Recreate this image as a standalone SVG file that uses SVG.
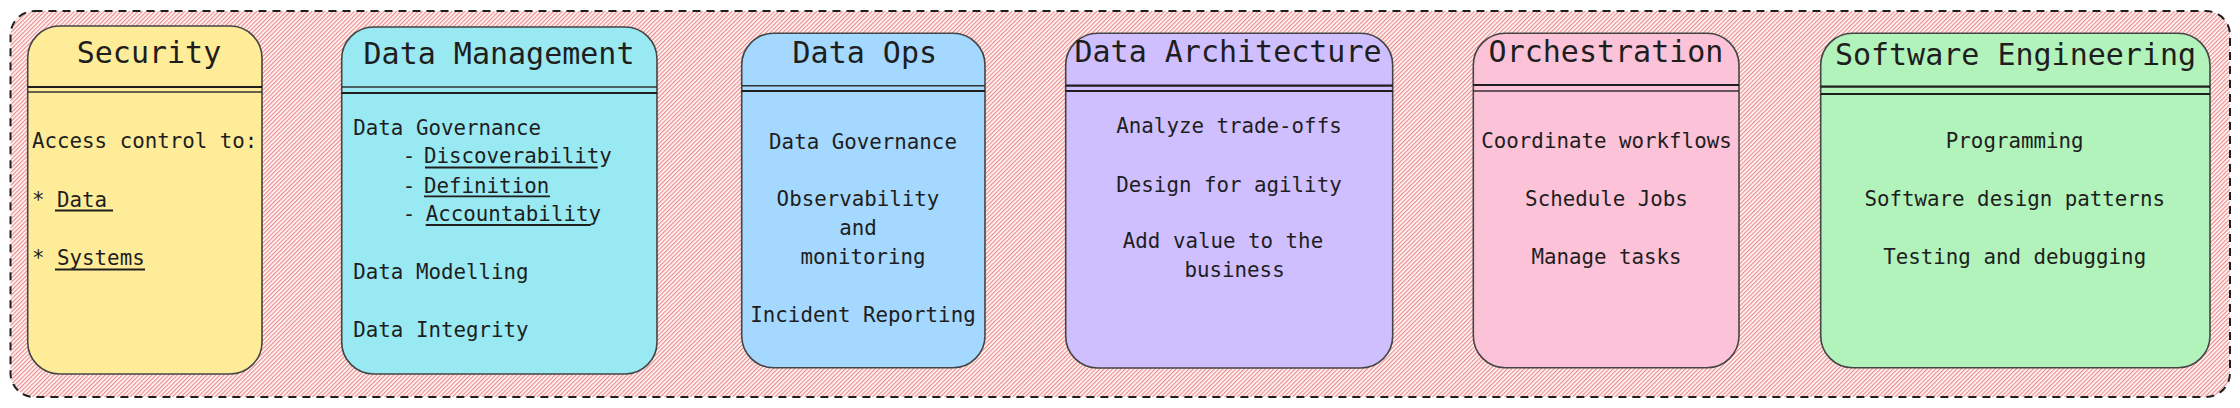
<svg xmlns="http://www.w3.org/2000/svg" width="2240" height="408" viewBox="0 0 2240 408">
<style>
.box{stroke:#444;stroke-width:1.6}
.t{font-family:"DejaVu Sans Mono","Liberation Mono",monospace;font-size:30px;fill:#1e1e1e;text-anchor:middle}
.b{font-family:"DejaVu Sans Mono","Liberation Mono",monospace;font-size:20.8px;fill:#1e1e1e}
.c{text-anchor:middle}
.l1{stroke:#1e1e1e;stroke-width:2.2}
.l2{stroke:#333;stroke-width:1.6}
.u{stroke:#1e1e1e;stroke-width:1.8}
</style>
<defs>
<pattern id="hatch" patternUnits="userSpaceOnUse" width="3" height="3" patternTransform="rotate(45)">
<rect width="3" height="3" fill="#ffffff"/>
<rect width="1.3" height="3" fill="#f08c8c"/>
</pattern>
</defs>
<g id="container">
<rect x="10.5" y="11" width="2219.5" height="386" rx="24" fill="url(#hatch)" stroke="#1e1e1e" stroke-width="2" stroke-dasharray="8 6"/>
</g>
<g id="security">
<rect class="box" x="27.7" y="26" width="234.3" height="348" rx="32" fill="#ffec99"/>
<text class="t" x="149" y="63">Security</text>
<line class="l1" x1="27.7" y1="87" x2="262" y2="87"/>
<line class="l2" x1="27.7" y1="92" x2="262" y2="92"/>
<text class="b" x="32" y="148">Access control to:</text>
<text class="b" x="32" y="207">* Data </text>
<text class="b" x="32" y="265">* Systems</text>
<line class="u" x1="55" y1="210.5" x2="113" y2="210.5"/>
<line class="u" x1="55" y1="269.5" x2="145" y2="269.5"/>
</g>
<g id="data-management">
<rect class="box" x="341.7" y="27" width="315.3" height="347" rx="32" fill="#99e9f2"/>
<text class="t" x="499" y="64">Data Management</text>
<line class="l2" x1="341.7" y1="87" x2="657" y2="87"/>
<line class="l1" x1="341.7" y1="93" x2="657" y2="93"/>
<text class="b" x="353.3" y="135">Data Governance</text>
<text class="b" x="402.7" y="163.3">-</text>
<text class="b" x="424" y="163.3">Discoverability</text>
<text class="b" x="402.7" y="192.7">-</text>
<text class="b" x="424" y="192.7">Definition</text>
<text class="b" x="402.7" y="221">-</text>
<text class="b" x="425.7" y="221">Accountability</text>
<line class="u" x1="425" y1="167.5" x2="597.7" y2="167.5"/>
<line class="u" x1="424" y1="196.3" x2="550" y2="196.3"/>
<line class="u" x1="425.7" y1="225" x2="590.7" y2="225"/>
<text class="b" x="353.3" y="279.3">Data Modelling</text>
<text class="b" x="353.3" y="337.3">Data Integrity</text>
</g>
<g id="data-ops">
<rect class="box" x="741.7" y="33.3" width="243.3" height="334.4" rx="32" fill="#a5d8ff"/>
<text class="t" x="864.8" y="63">Data Ops</text>
<line class="l2" x1="741.7" y1="85.7" x2="985" y2="85.7"/>
<line class="l1" x1="741.7" y1="91" x2="985" y2="91"/>
<text class="b c" x="863" y="149">Data Governance</text>
<text class="b c" x="858" y="206">Observability</text>
<text class="b c" x="858" y="235">and</text>
<text class="b c" x="863" y="264">monitoring</text>
<text class="b c" x="863" y="321.7">Incident Reporting</text>
</g>
<g id="data-architecture">
<rect class="box" x="1065.7" y="33.3" width="327" height="334.7" rx="32" fill="#d0bfff"/>
<text class="t" x="1228" y="61.7">Data Architecture</text>
<line class="l1" x1="1065.7" y1="85.7" x2="1392.7" y2="85.7"/>
<line class="l1" x1="1065.7" y1="91" x2="1392.7" y2="91"/>
<text class="b c" x="1229" y="133">Analyze trade-offs</text>
<text class="b c" x="1229" y="192">Design for agility</text>
<text class="b c" x="1223" y="248">Add value to the</text>
<text class="b c" x="1234.6" y="277">business</text>
</g>
<g id="orchestration">
<rect class="box" x="1473.3" y="33.3" width="265.7" height="334.4" rx="32" fill="#fcc2d7"/>
<text class="t" x="1606" y="61.7">Orchestration</text>
<line class="l1" x1="1473.3" y1="85" x2="1739" y2="85"/>
<line class="l2" x1="1473.3" y1="91" x2="1739" y2="91"/>
<text class="b c" x="1606.5" y="148">Coordinate workflows</text>
<text class="b c" x="1606.5" y="206">Schedule Jobs</text>
<text class="b c" x="1606.5" y="264">Manage tasks</text>
</g>
<g id="software-engineering">
<rect class="box" x="1820.7" y="33.3" width="389.3" height="334.4" rx="32" fill="#b2f2bb"/>
<text class="t" x="2015.5" y="65">Software Engineering</text>
<line class="l1" x1="1820.7" y1="86.7" x2="2210" y2="86.7"/>
<line class="l1" x1="1820.7" y1="94" x2="2210" y2="94"/>
<text class="b c" x="2014.7" y="148">Programming</text>
<text class="b c" x="2014.7" y="206">Software design patterns</text>
<text class="b c" x="2014.7" y="264">Testing and debugging</text>
</g>
<g id="connectors"></g>
</svg>
